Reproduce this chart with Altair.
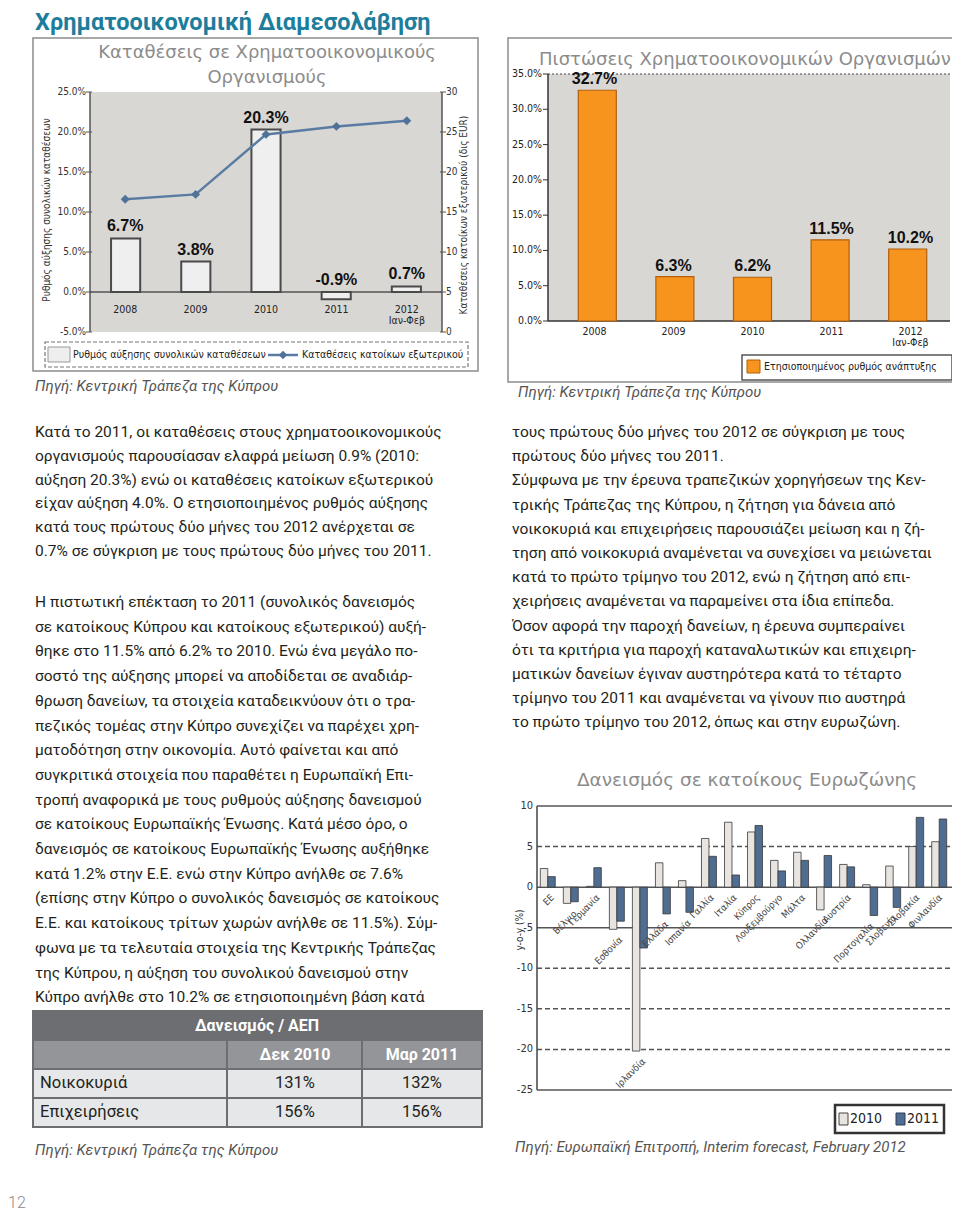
import altair as alt
import pandas as pd

# ---------------- data ----------------
page_title = "Χρηματοοικονομική Διαμεσολάβηση"
page_number = "12"

years = ["2008", "2009", "2010", "2011", "2012"]
year_labels = ["2008", "2009", "2010", "2011", "2012\nΙαν-Φεβ"]

deposit_growth = [6.7, 3.8, 20.3, -0.9, 0.7]
nonresident_deposits = [16.6, 17.2, 24.7, 25.7, 26.4]
deposit_left_ticks = [-5, 0, 5, 10, 15, 20, 25]
deposit_right_ticks = [0, 5, 10, 15, 20, 25, 30]
deposit_title = ["Καταθέσεις σε Χρηματοοικονομικούς", "Οργανισμούς"]
deposit_left_axis = "Ρυθμός αύξησης συνολικών καταθέσεων"
deposit_right_axis = "Καταθέσεις κατοίκων εξωτερικού (δις EUR)"
deposit_legend = ["Ρυθμός αύξησης συνολικών καταθέσεων", "Καταθέσεις κατοίκων εξωτερικού"]

credit_growth = [32.7, 6.3, 6.2, 11.5, 10.2]
credit_ticks = [0, 5, 10, 15, 20, 25, 30, 35]
credit_title = "Πιστώσεις Χρηματοοικονομικών Οργανισμών"
credit_legend = "Ετησιοποιημένος ρυθμός ανάπτυξης"

countries = ["ΕΕ", "Βέλγιο", "Γερμανία", "Εσθονία", "Ιρλανδία", "Ελλάδα", "Ισπανία",
             "Γαλλία", "Ιταλία", "Κύπρος", "Λουξεμβούργο", "Μάλτα", "Ολλανδία",
             "Αυστρία", "Πορτογαλία", "Σλοβενία", "Σλοβακία", "Φινλανδία"]
loans_2010 = [2.3, -2.0, 0.1, -5.2, -20.2, 3.0, 0.8, 6.0, 8.0, 6.8, 3.3, 4.3, -2.8, 2.8, 0.3, 2.6, 5.0, 5.6]
loans_2011 = [1.3, -1.8, 2.4, -4.2, -7.5, -3.3, -3.1, 3.8, 1.5, 7.6, 2.0, 3.3, 3.9, 2.5, -3.5, -2.5, 8.6, 8.4]
loan_series = ["2010", "2011"]
loan_ticks = [10, 5, 0, -5, -10, -15, -20, -25]
loan_grid_solid = [10, 0, -5, -25]
loan_grid_dashed = [5, -10, -15, -20]
loan_title = "Δανεισμός σε κατοίκους Ευρωζώνης"
loan_axis = "y-o-y (%)"

table_head = "Δανεισμός / ΑΕΠ"
table_cols = ["Δεκ 2010", "Μαρ 2011"]
table_rows = ["Νοικοκυριά", "Επιχειρήσεις"]
table_dec2010 = ["131%", "156%"]
table_mar2011 = ["132%", "156%"]

left_par1 = [
    "Κατά το 2011, οι καταθέσεις στους χρηματοοικονομικούς",
    "οργανισμούς παρουσίασαν ελαφρά μείωση 0.9% (2010:",
    "αύξηση 20.3%) ενώ οι καταθέσεις κατοίκων εξωτερικού",
    "είχαν αύξηση 4.0%. Ο ετησιοποιημένος ρυθμός αύξησης",
    "κατά τους πρώτους δύο μήνες του 2012 ανέρχεται σε",
    "0.7% σε σύγκριση με τους πρώτους δύο μήνες του 2011.",
]
left_par2 = [
    "Η πιστωτική επέκταση το 2011 (συνολικός δανεισμός",
    "σε κατοίκους Κύπρου και κατοίκους εξωτερικού) αυξή-",
    "θηκε στο 11.5% από 6.2% το 2010. Ενώ ένα μεγάλο πο-",
    "σοστό της αύξησης μπορεί να αποδίδεται σε αναδιάρ-",
    "θρωση δανείων, τα στοιχεία καταδεικνύουν ότι ο τρα-",
    "πεζικός τομέας στην Κύπρο συνεχίζει να παρέχει χρη-",
    "ματοδότηση στην οικονομία. Αυτό φαίνεται και από",
    "συγκριτικά στοιχεία που παραθέτει η Ευρωπαϊκή Επι-",
    "τροπή αναφορικά με τους ρυθμούς αύξησης δανεισμού",
    "σε κατοίκους Ευρωπαϊκής Ένωσης. Κατά μέσο όρο, ο",
    "δανεισμός σε κατοίκους Ευρωπαϊκής Ένωσης αυξήθηκε",
    "κατά 1.2% στην Ε.Ε. ενώ στην Κύπρο ανήλθε σε 7.6%",
    "(επίσης στην Κύπρο ο συνολικός δανεισμός σε κατοίκους",
    "Ε.Ε. και κατοίκους τρίτων χωρών ανήλθε σε 11.5%). Σύμ-",
    "φωνα με τα τελευταία στοιχεία της Κεντρικής Τράπεζας",
    "της Κύπρου, η αύξηση του συνολικού δανεισμού στην",
    "Κύπρο ανήλθε στο 10.2% σε ετησιοποιημένη βάση κατά",
]
right_par = [
    "τους πρώτους δύο μήνες του 2012 σε σύγκριση με τους",
    "πρώτους δύο μήνες του 2011.",
    "Σύμφωνα με την έρευνα τραπεζικών χορηγήσεων της Κεν-",
    "τρικής Τράπεζας της Κύπρου, η ζήτηση για δάνεια από",
    "νοικοκυριά και επιχειρήσεις παρουσιάζει μείωση και η ζή-",
    "τηση από νοικοκυριά αναμένεται να συνεχίσει να μειώνεται",
    "κατά το πρώτο τρίμηνο του 2012, ενώ η ζήτηση από επι-",
    "χειρήσεις αναμένεται να παραμείνει στα ίδια επίπεδα.",
    "Όσον αφορά την παροχή δανείων, η έρευνα συμπεραίνει",
    "ότι τα κριτήρια για παροχή καταναλωτικών και επιχειρη-",
    "ματικών δανείων έγιναν αυστηρότερα κατά το τέταρτο",
    "τρίμηνο του 2011 και αναμένεται να γίνουν πιο αυστηρά",
    "το πρώτο τρίμηνο του 2012, όπως και στην ευρωζώνη.",
]
source_cbc = "Πηγή: Κεντρική Τράπεζα της Κύπρου"
source_ec = "Πηγή: Ευρωπαϊκή Επιτροπή, Interim forecast, February 2012"

# ---------------- helpers ----------------
OFF = 8  # page margin: page coordinate -> chart coordinate
BODY = "Roboto"
NARROW = "Liberation Sans Narrow, Arial Narrow, DejaVu Sans Condensed, sans-serif"
TITLEF = "DejaVu Sans, Verdana, sans-serif"
BOLDF = "Liberation Sans, Arial, sans-serif"
one = pd.DataFrame({"k": [0]})


def px(v):
    return v - OFF


def lin(domain, rng):
    return alt.Scale(domain=domain, range=[px(r) for r in rng], nice=False, zero=False)


def band(domain, rng, pi, po):
    return alt.Scale(domain=domain, range=[px(r) for r in rng], paddingInner=pi, paddingOuter=po)


def box(x1, y1, x2, y2, fill="white", stroke=None, sw=1.0, dash=None, hollow=False):
    kw = {"fill": fill}
    if hollow:
        kw["fillOpacity"] = 0
    if stroke is not None:
        kw["stroke"] = stroke
        kw["strokeWidth"] = sw
    if dash is not None:
        kw["strokeDash"] = dash
    return alt.Chart(one).mark_rect(**kw).encode(
        x=alt.value(px(x1)), x2=alt.value(px(x2)), y=alt.value(px(y1)), y2=alt.value(px(y2)))


def seg(x1, y1, x2, y2, color="#555", sw=1.0, dash=None):
    kw = dict(color=color, strokeWidth=sw)
    if dash is not None:
        kw["strokeDash"] = dash
    return alt.Chart(one).mark_rule(**kw).encode(
        x=alt.value(px(x1)), x2=alt.value(px(x2)), y=alt.value(px(y1)), y2=alt.value(px(y2)))


def text_lines(lines, x, y0, step, size, color="#231f20", font=BODY, weight="normal",
               style="normal", align="left", angle=0, baseline="middle"):
    n = len(lines)
    d = pd.DataFrame({"t": lines, "i": list(range(n))})
    span = max(n - 1, 1)
    kw = dict(align=align, baseline=baseline, fontSize=size, font=font, color=color,
              fontWeight=weight, fontStyle=style)
    if angle:
        kw["angle"] = angle
    return alt.Chart(d).mark_text(**kw).encode(
        x=alt.value(px(x)),
        y=alt.Y("i:Q", scale=lin([0, span], (y0, y0 + step * span)), axis=None),
        text="t:N")


L = []

# ---------------- page title ----------------
L.append(text_lines([page_title], 35, 30, 0, 23.5, color="#1d7d9c", font="Roboto", weight="bold",
                    baseline="alphabetic"))

# ---------------- chart 1: deposits ----------------
X1 = band(years, (90, 442), 0.585, 0.3)
YL1 = lin([-5, 25], (332, 92))
YR1 = lin([0, 30], (332, 92))
df1 = pd.DataFrame({"year": years, "g": deposit_growth, "nr": nonresident_deposits, "ylab": year_labels})
df1["top"] = df1["g"].clip(lower=0)
df1["lab"] = [f"{v:.1f}%" for v in deposit_growth]
tl1 = pd.DataFrame({"v": deposit_left_ticks})
tl1["lab"] = [f"{v:.1f}%" for v in deposit_left_ticks]
tr1 = pd.DataFrame({"v": deposit_right_ticks})
tr1["lab"] = [str(v) for v in deposit_right_ticks]
zero = pd.DataFrame({"v": [0]})

L.append(box(33, 38, 478, 371, fill="white", stroke="#8c8c8c", sw=1.5))
L.append(text_lines(deposit_title, 267, 53, 25, 18, color="#8c8c8c", font=TITLEF, align="center"))
L.append(box(90, 92, 442, 332, fill="#d9d7d4"))
L.append(seg(90, 92, 90, 332, "#555", 1.5))
L.append(seg(442, 92, 442, 332, "#555", 1.5))
L.append(alt.Chart(tl1).mark_rule(color="#555").encode(
    x=alt.value(px(86)), x2=alt.value(px(92)), y=alt.Y("v:Q", scale=YL1, axis=None)))
L.append(alt.Chart(tl1).mark_text(align="right", baseline="middle", fontSize=10, font=NARROW, color="#333").encode(
    x=alt.value(px(86)), y=alt.Y("v:Q", scale=YL1, axis=None), text="lab:N"))
L.append(alt.Chart(tr1).mark_rule(color="#555").encode(
    x=alt.value(px(440)), x2=alt.value(px(446)), y=alt.Y("v:Q", scale=YR1, axis=None)))
L.append(alt.Chart(tr1).mark_text(align="left", baseline="middle", fontSize=10, font=NARROW, color="#333").encode(
    x=alt.value(px(446)), y=alt.Y("v:Q", scale=YR1, axis=None), text="lab:N"))
L.append(alt.Chart(zero).mark_rule(color="#555", strokeWidth=1.5).encode(
    x=alt.value(px(90)), x2=alt.value(px(442)), y=alt.Y("v:Q", scale=YL1, axis=None)))
L.append(alt.Chart(df1).mark_bar(fill="#efefef", stroke="#4a4a4a", strokeWidth=2).encode(
    x=alt.X("year:N", scale=X1, axis=None),
    y=alt.Y("g:Q", scale=YL1, axis=None), y2=alt.datum(0)))
L.append(alt.Chart(df1).mark_text(baseline="bottom", dy=-4, fontSize=16, fontWeight="bold", font=BOLDF, color="#111").encode(
    x=alt.X("year:N", scale=X1, axis=None, bandPosition=0.5),
    y=alt.Y("top:Q", scale=YL1, axis=None), text="lab:N"))
L.append(alt.Chart(df1).transform_calculate(yl="split(datum.ylab, '\\n')").mark_text(
    baseline="middle", fontSize=10.5, font=NARROW, color="#222", lineHeight=11).encode(
    x=alt.X("year:N", scale=X1, axis=None, bandPosition=0.5), y=alt.value(px(310)), text="yl:N"))
L.append(alt.Chart(df1).mark_line(color="#5a7ca3", strokeWidth=2.5).encode(
    x=alt.X("year:N", scale=X1, axis=None, bandPosition=0.5),
    y=alt.Y("nr:Q", scale=YR1, axis=None)))
L.append(alt.Chart(df1).mark_point(shape="diamond", filled=True, size=80, color="#4f7299", opacity=1).encode(
    x=alt.X("year:N", scale=X1, axis=None, bandPosition=0.5),
    y=alt.Y("nr:Q", scale=YR1, axis=None)))
L.append(text_lines([deposit_left_axis], 47, 210, 0, 10, color="#333", font=NARROW, align="center", angle=270))
L.append(text_lines([deposit_right_axis], 464, 215, 0, 10, color="#333", font=NARROW, align="center", angle=270))
# legend
L.append(box(45, 342, 468, 367, fill="white", stroke="#777", sw=1.2, dash=[4, 2]))
L.append(box(48, 347, 70, 362, fill="#eeeeee", stroke="#999"))
L.append(text_lines([deposit_legend[0]], 73, 355, 0, 10.5, color="#222", font=NARROW))
L.append(seg(268, 355, 298, 355, "#5a7ca3", 2.5))
L.append(alt.Chart(one).mark_point(shape="diamond", filled=True, size=70, color="#4f7299", opacity=1).encode(
    x=alt.value(px(283)), y=alt.value(px(355))))
L.append(text_lines([deposit_legend[1]], 302, 355, 0, 10.5, color="#222", font=NARROW))
L.append(text_lines([source_cbc], 35, 386, 0, 15, color="#555", font=BODY, style="italic"))

# ---------------- chart 2: credit ----------------
X2 = band(years, (555, 950), 0.51, 0.3)
Y2 = lin([0, 35], (321, 74))
df2 = pd.DataFrame({"year": years, "g": credit_growth, "ylab": year_labels})
df2["lab"] = [f"{v:.1f}%" for v in credit_growth]
t2 = pd.DataFrame({"v": credit_ticks})
t2["lab"] = [f"{v:.1f}%" for v in credit_ticks]

L.append(box(508, 38, 957, 382, fill="white", stroke="#8c8c8c", sw=1.5))
L.append(text_lines([credit_title], 745, 60, 0, 18, color="#8c8c8c", font=TITLEF, align="center"))
L.append(box(548, 74, 950, 321, fill="#d9d7d4"))
L.append(seg(548, 74, 950, 74, "#444", 1, [2, 2]))
L.append(seg(548, 74, 548, 321, "#333", 1.5))
L.append(seg(548, 321, 950, 321, "#333", 1.5))
L.append(alt.Chart(t2).mark_rule(color="#333").encode(
    x=alt.value(px(543)), x2=alt.value(px(548)), y=alt.Y("v:Q", scale=Y2, axis=None)))
L.append(alt.Chart(t2).mark_text(align="right", baseline="middle", fontSize=10.5, font=NARROW, color="#222").encode(
    x=alt.value(px(542)), y=alt.Y("v:Q", scale=Y2, axis=None), text="lab:N"))
L.append(alt.Chart(df2).mark_bar(fill="#f7941d", stroke="#b25f0c", strokeWidth=1.2).encode(
    x=alt.X("year:N", scale=X2, axis=None),
    y=alt.Y("g:Q", scale=Y2, axis=None), y2=alt.datum(0)))
L.append(alt.Chart(df2).mark_text(baseline="bottom", dy=-3, fontSize=16, fontWeight="bold", font=BOLDF, color="#111").encode(
    x=alt.X("year:N", scale=X2, axis=None, bandPosition=0.5),
    y=alt.Y("g:Q", scale=Y2, axis=None), text="lab:N"))
L.append(alt.Chart(df2).transform_calculate(yl="split(datum.ylab, '\\n')").mark_text(
    baseline="middle", fontSize=10.5, font=NARROW, color="#222", lineHeight=11).encode(
    x=alt.X("year:N", scale=X2, axis=None, bandPosition=0.5), y=alt.value(px(332)), text="yl:N"))
L.append(box(742, 355, 952, 380, fill="white", stroke="#555", sw=1.5))
L.append(box(747, 360, 760, 373, fill="#f7941d", stroke="#b25f0c"))
L.append(text_lines([credit_legend], 764, 367, 0, 10.5, color="#222", font=NARROW))
L.append(text_lines([source_cbc], 518, 392, 0, 15, color="#555", font=BODY, style="italic"))

# ---------------- body text ----------------
L.append(text_lines(left_par1, 35, 432, 23.8, 15.5, color="#231f20"))
L.append(text_lines(left_par2, 35, 602, 24.7, 15.5, color="#231f20"))
L.append(text_lines(right_par, 512, 432, 24.2, 15.5, color="#231f20"))

# ---------------- table ----------------
L.append(box(33, 1011, 482, 1040, fill="#6d6e71"))
L.append(box(33, 1040, 482, 1069, fill="#939598"))
L.append(box(33, 1069, 482, 1127, fill="#e6e7e8"))
L.append(box(33, 1011, 482, 1127, fill="white", stroke="#6d6e71", sw=2, hollow=True))
for yy in (1040, 1069, 1098):
    L.append(seg(33, yy, 482, yy, "#6d6e71", 2))
for xx in (227, 362):
    L.append(seg(xx, 1040, xx, 1127, "#6d6e71", 2))
L.append(text_lines([table_head], 257, 1026, 0, 16, color="white", weight="bold", align="center"))
L.append(text_lines([table_cols[0]], 295, 1055, 0, 16, color="white", weight="bold", align="center"))
L.append(text_lines([table_cols[1]], 422, 1055, 0, 16, color="white", weight="bold", align="center"))
L.append(text_lines(table_rows, 40, 1083, 29, 16.5, color="#231f20"))
L.append(text_lines(table_dec2010, 295, 1083, 29, 16.5, color="#231f20", align="center"))
L.append(text_lines(table_mar2011, 422, 1083, 29, 16.5, color="#231f20", align="center"))
L.append(text_lines([source_cbc], 35, 1150, 0, 15, color="#555", font=BODY, style="italic"))

# ---------------- chart 3: euro area lending ----------------
X3 = band(countries, (538, 949), 0.35, 0.1)
Y3 = lin([-25, 10], (1090, 806))
df3 = pd.DataFrame({
    "c": countries * 2,
    "s": [loan_series[0]] * len(countries) + [loan_series[1]] * len(countries),
    "v": loans_2010 + loans_2011,
})
lab3 = pd.DataFrame({"c": countries,
                     "lo": [min(0, a, b) for a, b in zip(loans_2010, loans_2011)]})
t3 = pd.DataFrame({"v": loan_ticks})
t3["lab"] = [str(v) for v in loan_ticks]

L.append(text_lines([loan_title], 747, 780, 0, 18.5, color="#8c8c8c", font=TITLEF, align="center"))
L.append(alt.Chart(pd.DataFrame({"v": loan_grid_solid})).mark_rule(color="#555", strokeWidth=1.5).encode(
    x=alt.value(px(537)), x2=alt.value(px(952)), y=alt.Y("v:Q", scale=Y3, axis=None)))
L.append(alt.Chart(pd.DataFrame({"v": loan_grid_dashed})).mark_rule(color="#555", strokeWidth=1.5, strokeDash=[5, 3]).encode(
    x=alt.value(px(537)), x2=alt.value(px(952)), y=alt.Y("v:Q", scale=Y3, axis=None)))
L.append(seg(537, 806, 537, 1090, "#444", 1.5))
L.append(alt.Chart(t3).mark_text(align="right", baseline="middle", fontSize=11, font=NARROW, color="#333").encode(
    x=alt.value(px(533)), y=alt.Y("v:Q", scale=Y3, axis=None), text="lab:N"))
L.append(alt.Chart(df3).mark_bar(stroke="#3a3a3a", strokeWidth=0.8).encode(
    x=alt.X("c:N", scale=X3, axis=None),
    xOffset=alt.XOffset("s:N", scale=alt.Scale(domain=loan_series)),
    y=alt.Y("v:Q", scale=Y3, axis=None), y2=alt.datum(0),
    color=alt.Color("s:N", scale=alt.Scale(domain=loan_series, range=["#e8e4e0", "#4f6d91"]), legend=None)))
L.append(alt.Chart(lab3).mark_text(angle=315, align="right", baseline="middle", dx=-4.2, dy=8.5,
                                   fontSize=9.5, font=NARROW, color="#444").encode(
    x=alt.X("c:N", scale=X3, axis=None, bandPosition=0.5),
    y=alt.Y("lo:Q", scale=Y3, axis=None), text="c:N"))
L.append(text_lines([loan_axis], 520, 930, 0, 10, color="#333", font=NARROW, align="center", angle=270))
L.append(box(835, 1105, 944, 1133, fill="white", stroke="#333", sw=2.5))
L.append(box(839, 1113, 848, 1125, fill="#e8e4e0", stroke="#444"))
L.append(text_lines([loan_series[0]], 850, 1119, 0, 14, color="#222", font=NARROW))
L.append(box(896, 1113, 905, 1125, fill="#4f6d91", stroke="#2a3f5a"))
L.append(text_lines([loan_series[1]], 907, 1119, 0, 14, color="#222", font=NARROW))
L.append(text_lines([source_ec], 515, 1147, 0, 15, color="#555", font=BODY, style="italic"))

# ---------------- page number ----------------
L.append(text_lines([page_number], 8, 1203, 0, 16, color="#888", font=BODY, weight=300))

chart = alt.layer(*L).resolve_scale(
    x="independent", y="independent", xOffset="independent", color="independent"
).properties(
    width=944, height=1206, padding=0, autosize=alt.AutoSizeParams(type="none")
).configure_view(stroke=None)

chart.save("out.html", embed_options={"renderer": "svg", "actions": False})
